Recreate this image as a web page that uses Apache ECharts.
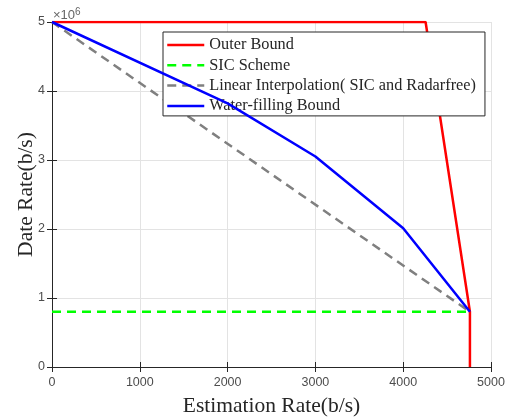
<!DOCTYPE html>
<html>
<head>
<meta charset="utf-8">
<script src="https://cdn.jsdelivr.net/npm/echarts@6/dist/echarts.min.js"></script>
<style>
  html, body { margin: 0; padding: 0; background: #fff; }
  #chart { width: 513px; height: 419px; }
</style>
</head>
<body>
<div id="chart"></div>
<script>
// data (x: estimation rate b/s, y: data rate b/s)
var outerX = [0, 4255, 4760, 4760];
var outerY = [5000000, 5000000, 800000, 0];

var sicX = [0, 4760];
var sicY = [800000, 800000];

var linearX = [0, 4760];
var linearY = [5000000, 800000];

var waterX = [0, 2000, 3000, 4000, 4760];
var waterY = [5000000, 3820000, 3050000, 2010000, 800000];

var yTicks = [0, 1, 2, 3, 4, 5];

function pairs(xs, ys) {
    return xs.map(function (x, i) { return [x, ys[i]]; });
}

var chart = echarts.init(document.getElementById('chart'));

var axisColor = '#262626';
var gridColor = '#e3e3e3';
var labelColor = '#4d4d4d';
var tickFont = 'Liberation Sans';
var serif = 'Liberation Serif';

var option = {
    animation: false,
    backgroundColor: '#fff',
    grid: {
        left: 52,
        right: 22,
        top: 22,
        bottom: 52,
        outerBoundsMode: 'none'
    },
    graphic: [
        {
            type: 'text',
            left: 53,
            top: 7,
            style: {
                text: '×10{sup|6}',
                fill: '#666',
                font: '13px Liberation Sans',
                rich: {
                    sup: { fontSize: 10, fill: '#666', verticalAlign: 'top', padding: [0, 0, 6, 0] }
                }
            }
        }
    ],
    legend: {
        orient: 'vertical',
        left: 163,
        top: 32,
        itemWidth: 37,
        itemHeight: 16,
        itemGap: 4.3,
        padding: [5, 9, 2, 3],
        backgroundColor: '#fff',
        borderColor: axisColor,
        borderWidth: 1,
        itemStyle: { opacity: 0 },
        lineStyle: { width: 2.5 },
        textStyle: {
            fontFamily: serif,
            fontSize: 16.3,
            color: '#262626',
            lineHeight: 16
        },
        data: ['Outer Bound', 'SIC Scheme', 'Linear Interpolation( SIC and Radarfree)', 'Water-filling Bound']
    },
    xAxis: [
        {
            type: 'value',
            min: 0,
            max: 5000,
            interval: 1000,
            name: 'Estimation Rate(b/s)',
            nameLocation: 'middle',
            nameGap: 28,
            nameMoveOverlap: false,
            nameTextStyle: { fontFamily: serif, fontSize: 21.5, color: '#262626' },
            axisLine: { show: true, lineStyle: { color: axisColor, width: 1 } },
            axisTick: { show: true, inside: true, length: 5, lineStyle: { color: axisColor } },
            axisLabel: {
                fontFamily: tickFont, fontSize: 12.5, color: labelColor, margin: 9,
                formatter: function (v) { return String(v); }
            },
            splitLine: { show: true, lineStyle: { color: gridColor, width: 1 } }
        },
        {
            type: 'value',
            position: 'top',
            min: 0,
            max: 5000,
            interval: 1000,
            axisLine: { show: true, lineStyle: { color: axisColor, width: 1 } },
            axisTick: { show: true, inside: true, length: 5, lineStyle: { color: axisColor } },
            axisLabel: { show: false },
            splitLine: { show: false }
        }
    ],
    yAxis: [
        {
            type: 'value',
            min: 0,
            max: 5000000,
            interval: 1000000,
            name: 'Date Rate(b/s)',
            nameLocation: 'middle',
            nameGap: 15,
            nameMoveOverlap: false,
            nameTextStyle: { fontFamily: serif, fontSize: 21.5, color: '#262626' },
            axisLine: { show: true, lineStyle: { color: axisColor, width: 1 } },
            axisTick: { show: true, inside: true, length: 5, lineStyle: { color: axisColor } },
            axisLabel: {
                fontFamily: tickFont, fontSize: 12.5, color: labelColor, margin: 7,
                formatter: function (v) { return String(yTicks[Math.round(v / 1000000)]); }
            },
            splitLine: { show: true, lineStyle: { color: gridColor, width: 1 } }
        },
        {
            type: 'value',
            position: 'right',
            min: 0,
            max: 5000000,
            interval: 1000000,
            axisLine: { show: true, lineStyle: { color: axisColor, width: 1 } },
            axisTick: { show: true, inside: true, length: 5, lineStyle: { color: axisColor } },
            axisLabel: { show: false },
            splitLine: { show: false }
        }
    ],
    series: [
        {
            name: 'Outer Bound',
            type: 'line',
            symbol: 'none',
            lineStyle: { color: '#ff0000', width: 2.5 },
            itemStyle: { color: '#ff0000' },
            data: pairs(outerX, outerY),
            z: 3
        },
        {
            name: 'SIC Scheme',
            type: 'line',
            symbol: 'none',
            lineStyle: { color: '#00ff00', width: 2.5, type: [9, 6] },
            itemStyle: { color: '#00ff00' },
            data: pairs(sicX, sicY),
            z: 2
        },
        {
            name: 'Linear Interpolation( SIC and Radarfree)',
            type: 'line',
            symbol: 'none',
            lineStyle: { color: '#808080', width: 2.5, type: [9, 6] },
            itemStyle: { color: '#808080' },
            data: pairs(linearX, linearY),
            z: 2
        },
        {
            name: 'Water-filling Bound',
            type: 'line',
            symbol: 'none',
            lineStyle: { color: '#0000ff', width: 2.5 },
            itemStyle: { color: '#0000ff' },
            data: pairs(waterX, waterY),
            z: 4
        }
    ]
};

chart.setOption(option);
</script>
</body>
</html>
